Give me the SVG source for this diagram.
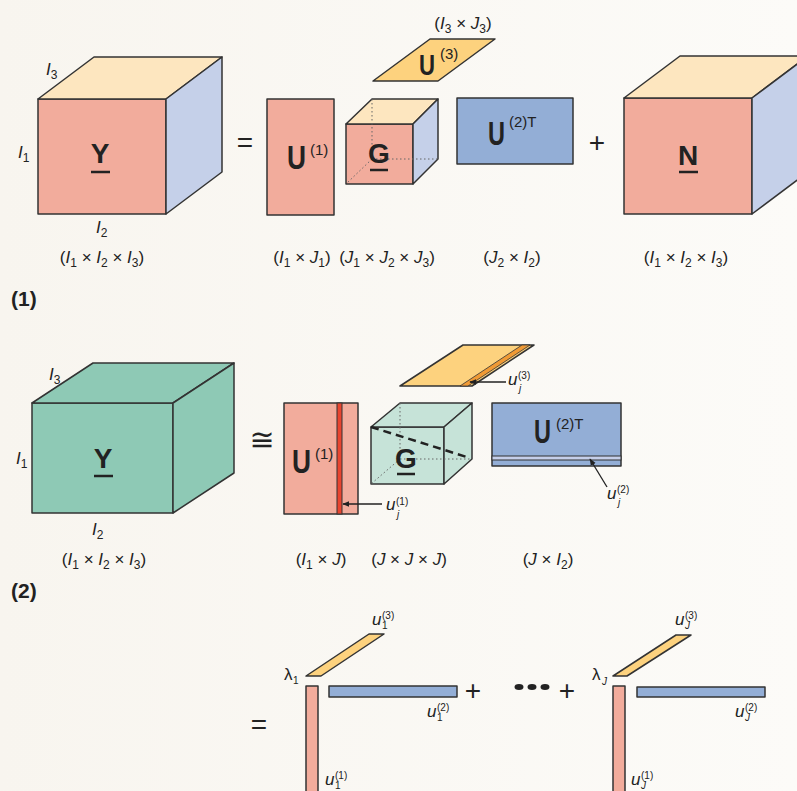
<svg xmlns="http://www.w3.org/2000/svg" width="797" height="791" viewBox="0 0 797 791">
<defs>
<linearGradient id="bg" x1="0" y1="0" x2="1" y2="0">
<stop offset="0" stop-color="#F8F5EF"/>
<stop offset="1" stop-color="#FCFBF8"/>
</linearGradient>
<marker id="ah" viewBox="0 0 10 10" refX="9" refY="5" markerWidth="7" markerHeight="7" orient="auto" markerUnits="userSpaceOnUse">
<path d="M0,1 L10,5 L0,9 z" fill="#222"/>
</marker>
<style>
.f{stroke:#333;stroke-width:1.5;stroke-linejoin:round}
.sal{fill:#F2AC9C}
.top{fill:#FDE6BF}
.side{fill:#C5D0E9}
.blue{fill:#93AED6}
.yel{fill:#FDD27E}
.grn{fill:#8EC9B5}
.lgrn{fill:#C6E3D8}
.dot{stroke:#666;stroke-width:1;stroke-dasharray:1.5 2.5;fill:none}
.ul{stroke:#222;stroke-width:2.5}
text{font-family:"Liberation Sans",Arial,sans-serif;fill:#222}
.big{font-weight:bold;font-size:33px}
.mid{font-weight:bold;font-size:28px}
.sup{font-size:15px}
.lbl{font-size:17px}
.it{font-style:italic}
.sb{font-size:12px}
.tiny{font-size:10px}
.op{font-size:28px}
.cn{stroke:#222;stroke-width:1.3;fill:none}
</style>
</defs>
<rect x="0" y="0" width="797" height="791" fill="url(#bg)"/>

<!-- Section 1 -->
<g id="y1">
<rect class="f sal" x="38" y="99" width="128" height="115"/>
<polygon class="f top" points="38,99 94,57 222,57 166,99"/>
<polygon class="f side" points="166,99 222,57 222,172 166,214"/>
<text class="mid" x="100" y="163" text-anchor="middle">Y</text>
<line class="ul" x1="91" y1="172" x2="110" y2="172"/>
<text class="lbl" x="46" y="75"><tspan class="it">I</tspan><tspan class="sb" dy="4">3</tspan></text>
<text class="lbl" x="18" y="158"><tspan class="it">I</tspan><tspan class="sb" dy="4">1</tspan></text>
<text class="lbl" x="96" y="233"><tspan class="it">I</tspan><tspan class="sb" dy="4">2</tspan></text>
<text class="lbl" x="102" y="263" text-anchor="middle">(<tspan class="it">I</tspan><tspan class="sb" dy="4">1</tspan><tspan dy="-4"> × </tspan><tspan class="it">I</tspan><tspan class="sb" dy="4">2</tspan><tspan dy="-4"> × </tspan><tspan class="it">I</tspan><tspan class="sb" dy="4">3</tspan><tspan dy="-4">)</tspan></text>
</g>

<text class="op" x="245" y="152" text-anchor="middle">=</text>

<g id="u1a">
<rect class="f sal" x="267" y="99" width="67" height="116"/>
<text class="big" x="287" y="169" textLength="19" lengthAdjust="spacingAndGlyphs">U</text>
<text class="sup" x="310" y="155">(1)</text>
<text class="lbl" x="302" y="263" text-anchor="middle">(<tspan class="it">I</tspan><tspan class="sb" dy="4">1</tspan><tspan dy="-4"> × </tspan><tspan class="it">J</tspan><tspan class="sb" dy="4">1</tspan><tspan dy="-4">)</tspan></text>
</g>

<g id="g1">
<rect class="f sal" x="346" y="124" width="67" height="60"/>
<polygon class="f top" points="346,124 372,99 438,99 413,124"/>
<polygon class="f side" points="413,124 438,99 438,159 413,184"/>
<path class="dot" d="M372,99 L372,159 L438,159 M372,159 L346,184"/>
<text class="mid" x="379" y="163" text-anchor="middle">G</text>
<line class="ul" x1="370" y1="170" x2="388" y2="170"/>
<text class="lbl" x="387" y="263" text-anchor="middle">(<tspan class="it">J</tspan><tspan class="sb" dy="4">1</tspan><tspan dy="-4"> × </tspan><tspan class="it">J</tspan><tspan class="sb" dy="4">2</tspan><tspan dy="-4"> × </tspan><tspan class="it">J</tspan><tspan class="sb" dy="4">3</tspan><tspan dy="-4">)</tspan></text>
</g>

<g id="u3a">
<polygon class="f yel" points="373,81 438,81 495,39 430,39"/>
<text class="big" x="419" y="75" textLength="16" lengthAdjust="spacingAndGlyphs" style="font-size:29px">U</text>
<text class="sup" x="440" y="59">(3)</text>
<text class="lbl" x="463" y="29" text-anchor="middle">(<tspan class="it">I</tspan><tspan class="sb" dy="4">3</tspan><tspan dy="-4"> × </tspan><tspan class="it">J</tspan><tspan class="sb" dy="4">3</tspan><tspan dy="-4">)</tspan></text>
</g>

<g id="u2a">
<rect class="f blue" x="457" y="98" width="116" height="66"/>
<text class="big" x="488" y="145" textLength="17" lengthAdjust="spacingAndGlyphs">U</text>
<text class="sup" x="509" y="127">(2)T</text>
<text class="lbl" x="512" y="263" text-anchor="middle">(<tspan class="it">J</tspan><tspan class="sb" dy="4">2</tspan><tspan dy="-4"> × </tspan><tspan class="it">I</tspan><tspan class="sb" dy="4">2</tspan><tspan dy="-4">)</tspan></text>
</g>

<text class="op" x="597" y="152" text-anchor="middle">+</text>

<g id="n1">
<rect class="f sal" x="624" y="98" width="128" height="116"/>
<polygon class="f top" points="624,98 680,56 808,56 752,98"/>
<polygon class="f side" points="752,98 808,56 808,172 752,214"/>
<text class="mid" x="688" y="165" text-anchor="middle">N</text>
<line class="ul" x1="679" y1="172" x2="698" y2="172"/>
<text class="lbl" x="686" y="263" text-anchor="middle">(<tspan class="it">I</tspan><tspan class="sb" dy="4">1</tspan><tspan dy="-4"> × </tspan><tspan class="it">I</tspan><tspan class="sb" dy="4">2</tspan><tspan dy="-4"> × </tspan><tspan class="it">I</tspan><tspan class="sb" dy="4">3</tspan><tspan dy="-4">)</tspan></text>
</g>

<text x="11" y="306" style="font-weight:bold;font-size:21px">(1)</text>

<!-- Section 2 -->
<g id="y2">
<rect class="f grn" x="32" y="403" width="141" height="110"/>
<polygon class="f grn" points="32,403 93,363 234,363 173,403"/>
<polygon class="f grn" points="173,403 234,363 234,473 173,513"/>
<text class="mid" x="103" y="468" text-anchor="middle">Y</text>
<line class="ul" x1="94" y1="476" x2="113" y2="476"/>
<text class="lbl" x="49" y="380"><tspan class="it">I</tspan><tspan class="sb" dy="4">3</tspan></text>
<text class="lbl" x="16" y="464"><tspan class="it">I</tspan><tspan class="sb" dy="4">1</tspan></text>
<text class="lbl" x="92" y="535"><tspan class="it">I</tspan><tspan class="sb" dy="4">2</tspan></text>
<text class="lbl" x="104" y="565" text-anchor="middle">(<tspan class="it">I</tspan><tspan class="sb" dy="4">1</tspan><tspan dy="-4"> × </tspan><tspan class="it">I</tspan><tspan class="sb" dy="4">2</tspan><tspan dy="-4"> × </tspan><tspan class="it">I</tspan><tspan class="sb" dy="4">3</tspan><tspan dy="-4">)</tspan></text>
</g>

<text x="262" y="450" text-anchor="middle" style="font-family:'DejaVu Sans',sans-serif;font-size:30px">≅</text>

<g id="u1b">
<rect class="f sal" x="284" y="403" width="74" height="111"/>
<rect x="337" y="403" width="5" height="111" fill="#E8452F" stroke="#333" stroke-width="1"/>
<text class="big" x="292" y="473" textLength="19" lengthAdjust="spacingAndGlyphs">U</text>
<text class="sup" x="315" y="459">(1)</text>
<text class="lbl it" x="386" y="510">u</text>
<text class="tiny" x="396" y="505">(1)</text>
<text class="tiny it" x="397" y="518">j</text>
<text class="lbl" x="321" y="565" text-anchor="middle">(<tspan class="it">I</tspan><tspan class="sb" dy="4">1</tspan><tspan dy="-4"> × </tspan><tspan class="it">J</tspan>)</text>
</g>

<g id="g2">
<rect class="f lgrn" x="371" y="427" width="73" height="57"/>
<polygon class="f lgrn" points="371,427 400,403 472,403 444,427"/>
<polygon class="f lgrn" points="444,427 472,403 472,459 444,484"/>
<path class="dot" d="M400,403 L400,459 L472,459 M400,459 L371,484"/>
<line x1="371" y1="427" x2="470" y2="458" stroke="#222" stroke-width="2.5" stroke-dasharray="8 5"/>
<text class="mid" x="406" y="468" text-anchor="middle">G</text>
<line class="ul" x1="397" y1="474" x2="415" y2="474"/>
<text class="lbl" x="409" y="565" text-anchor="middle">(<tspan class="it">J</tspan> × <tspan class="it">J</tspan> × <tspan class="it">J</tspan>)</text>
</g>

<g id="u3b">
<polygon class="f yel" points="400,386 472,386 534,345 463,345"/>
<polygon points="460,386 468,386 530,345 522,345" fill="#F09A35" stroke="#333" stroke-width="0.8"/>
<text class="lbl it" x="508" y="385">u</text>
<text class="tiny" x="518" y="379">(3)</text>
<text class="tiny it" x="519" y="392">j</text>
</g>

<g id="u2b">
<rect class="f blue" x="492" y="403" width="129" height="63"/>
<rect x="492" y="456" width="129" height="4" fill="#C5CFEA" stroke="#333" stroke-width="1"/>
<text class="big" x="534" y="443" textLength="17" lengthAdjust="spacingAndGlyphs">U</text>
<text class="sup" x="556" y="429">(2)T</text>
<text class="lbl it" x="607" y="499">u</text>
<text class="tiny" x="617" y="493">(2)</text>
<text class="tiny it" x="618" y="506">j</text>
<text class="lbl" x="548" y="565" text-anchor="middle">(<tspan class="it">J</tspan> × <tspan class="it">I</tspan><tspan class="sb" dy="4">2</tspan><tspan dy="-4">)</tspan></text>
</g>

<text x="11" y="598" style="font-weight:bold;font-size:21px">(2)</text>

<!-- Section 3 -->
<text class="op" x="259" y="734" text-anchor="middle">=</text>

<g id="r1">
<polygon class="f yel" points="306,676 321,676 384,634 369,634"/>
<rect class="f sal" x="306" y="686" width="12" height="110"/>
<rect class="f blue" x="329" y="686" width="128" height="11"/>
<text class="lbl" x="284" y="680">λ</text>
<text class="tiny" x="293" y="684">1</text>
<text class="lbl it" x="372" y="625">u</text>
<text class="tiny" x="382" y="619">(3)</text>
<text class="tiny" x="382" y="629">1</text>
<text class="lbl it" x="427" y="717">u</text>
<text class="tiny" x="437" y="711">(2)</text>
<text class="tiny" x="437" y="721">1</text>
<text class="lbl it" x="325" y="785">u</text>
<text class="tiny" x="335" y="779">(1)</text>
<text class="tiny" x="335" y="789">1</text>
</g>

<text class="op" x="473" y="700" text-anchor="middle">+</text>
<g id="dots">
<ellipse cx="519" cy="687" rx="4.5" ry="3" fill="#222"/>
<ellipse cx="532" cy="687" rx="4.5" ry="3" fill="#222"/>
<ellipse cx="545" cy="687" rx="4.5" ry="3" fill="#222"/>
</g>
<text class="op" x="567" y="700" text-anchor="middle">+</text>

<g id="rJ">
<polygon class="f yel" points="613,676 627,676 691,635 676,635"/>
<rect class="f sal" x="613" y="686" width="12" height="110"/>
<rect class="f blue" x="637" y="687" width="128" height="10"/>
<text class="lbl" x="592" y="680">λ</text>
<text class="tiny it" x="602" y="685">J</text>
<text class="lbl it" x="675" y="625">u</text>
<text class="tiny" x="685" y="619">(3)</text>
<text class="tiny it" x="685" y="629">J</text>
<text class="lbl it" x="735" y="717">u</text>
<text class="tiny" x="745" y="711">(2)</text>
<text class="tiny it" x="745" y="721">J</text>
<text class="lbl it" x="631" y="785">u</text>
<text class="tiny" x="641" y="779">(1)</text>
<text class="tiny it" x="641" y="789">J</text>
</g>

<g id="connectors">
<line class="cn" x1="382" y1="504" x2="343" y2="504" marker-end="url(#ah)"/>
<line class="cn" x1="506" y1="382" x2="470" y2="382" marker-end="url(#ah)"/>
<line class="cn" x1="607" y1="487" x2="590" y2="459" marker-end="url(#ah)"/>
</g>
</svg>
